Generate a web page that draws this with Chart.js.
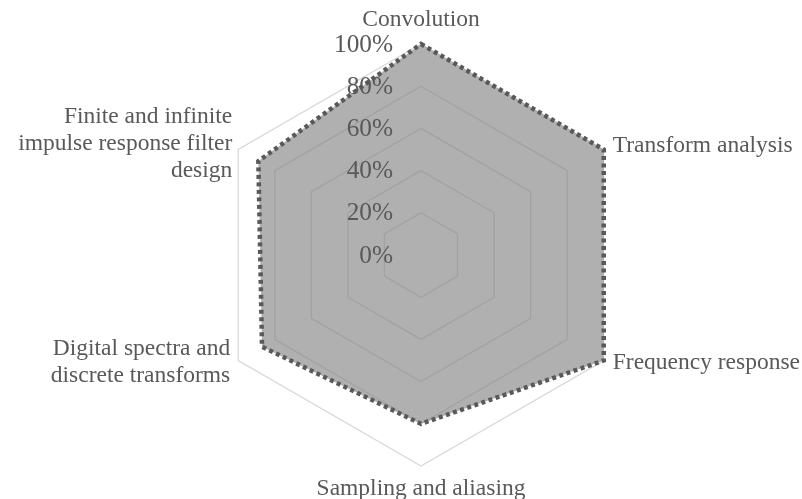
<!DOCTYPE html>
<html>
<head>
<meta charset="utf-8">
<script src="https://cdn.jsdelivr.net/npm/chart.js@4/dist/chart.umd.min.js"></script>
<style>
  html, body { margin: 0; padding: 0; background: #ffffff; }
  #wrap { width: 802px; height: 499px; position: relative; }
</style>
</head>
<body>
<div id="wrap"><canvas id="c" width="802" height="499"></canvas></div>
<script>
// Topic areas around the radar, one line per array entry
const categories = [
  ['Convolution'],
  ['Transform analysis'],
  ['Frequency response'],
  ['Sampling and aliasing'],
  ['Digital spectra and', 'discrete transforms'],
  ['Finite and infinite', 'impulse response filter', 'design']
];
// Coverage per topic, in percent
const coverage = [100, 100, 100, 80, 87, 89];
// Radial tick values and their labels
const tickValues = [0, 20, 40, 60, 80, 100];
const tickLabels = ['0%', '20%', '40%', '60%', '80%', '100%'];

const TEXT = '#595959';
const FONT = '"Liberation Serif", "Times New Roman", serif';

// How each category label sits relative to its outer vertex
const labelPlacement = [
  { align: 'center', dx: 0,  dy: -24 },
  { align: 'left',   dx: 9,  dy: -4  },
  { align: 'left',   dx: 9,  dy: 2   },
  { align: 'center', dx: 0,  dy: 23  },
  { align: 'right',  dx: -8, dy: 2   },
  { align: 'right',  dx: -6, dy: -6  }
];

const labelPlugin = {
  id: 'radarText',
  afterDatasetsDraw(chart) {
    const scale = chart.scales.r;
    const ctx = chart.ctx;
    ctx.save();
    ctx.fillStyle = TEXT;
    ctx.textBaseline = 'middle';
    // category labels
    ctx.font = '23.5px ' + FONT;
    const lh = 27;
    categories.forEach((lines, i) => {
      const p = scale.getPointPosition(i, scale.drawingArea);
      const pl = labelPlacement[i];
      ctx.textAlign = pl.align;
      const y0 = p.y + pl.dy - (lines.length - 1) * lh / 2;
      lines.forEach((t, k) => ctx.fillText(t, p.x + pl.dx, y0 + k * lh));
    });
    // radial tick labels, right-aligned just left of the vertical axis
    ctx.font = '25.3px ' + FONT;
    ctx.textAlign = 'right';
    tickValues.forEach((v, i) => {
      const d = scale.getDistanceFromCenterForValue(v);
      ctx.fillText(tickLabels[i], scale.xCenter - 28, scale.yCenter - d + 1);
    });
    ctx.restore();
  }
};

new Chart(document.getElementById('c'), {
  type: 'radar',
  data: {
    labels: categories,
    datasets: [{
      data: coverage,
      fill: true,
      backgroundColor: 'rgba(127,127,127,0.62)',
      borderColor: '#595959',
      borderWidth: 4.5,
      borderDash: [4, 3.5],
      pointRadius: 0,
      tension: 0
    }]
  },
  options: {
    responsive: false,
    animation: false,
    devicePixelRatio: 1,
    layout: { padding: { left: 210, right: 170, top: 44, bottom: 33 } },
    plugins: { legend: { display: false }, tooltip: { enabled: false } },
    scales: {
      r: {
        min: 0,
        max: 100,
        ticks: { stepSize: 20, display: false },
        grid: { color: '#d9d9d9', lineWidth: 1.3 },
        angleLines: { display: false },
        pointLabels: { display: false }
      }
    }
  },
  plugins: [labelPlugin]
});
</script>
</body>
</html>
